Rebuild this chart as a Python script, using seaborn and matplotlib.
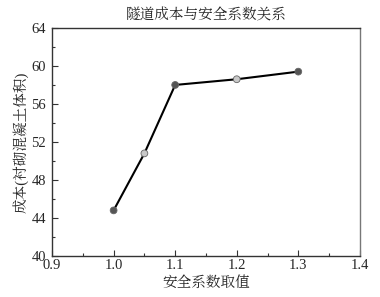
import matplotlib
matplotlib.use("Agg")
import matplotlib.pyplot as plt
import seaborn as sns
import pandas as pd
from matplotlib.ticker import MultipleLocator

safety_factor = [1.0, 1.05, 1.1, 1.2, 1.3]
cost = [44.8, 50.8, 58.0, 58.6, 59.4]
marker_colors = ["#555555", "#c8c8c8", "#555555", "#c8c8c8", "#555555"]
x_ticks = [0.9, 1.0, 1.1, 1.2, 1.3, 1.4]
y_ticks = [40, 44, 48, 52, 56, 60, 64]

sns.set_theme(style="white")
plt.rcParams['font.family'] = ['Liberation Serif', 'Noto Serif CJK SC', 'Noto Sans CJK SC']
plt.rcParams['xtick.direction'] = 'in'
plt.rcParams['ytick.direction'] = 'in'

df = pd.DataFrame({"x": safety_factor, "y": cost})

fig = plt.figure(figsize=(3.8, 2.97), dpi=100)
ax = fig.add_axes([0.137, 0.138, 0.810, 0.768])
sns.lineplot(data=df, x="x", y="y", ax=ax, color="black", linewidth=1.5)
ax.scatter(df["x"], df["y"], c=marker_colors, s=24, zorder=3, edgecolors="#666666", linewidths=0.6)

ax.set_xlim(0.9, 1.4)
ax.set_ylim(40, 64)
ax.set_xticks(x_ticks)
ax.set_xticklabels([f"{v:.1f}" for v in x_ticks])
ax.set_yticks(y_ticks)
ax.xaxis.set_minor_locator(MultipleLocator(0.05))
ax.yaxis.set_minor_locator(MultipleLocator(2))
ax.tick_params(axis="x", which="major", length=4, width=0.8, color="#333333", labelsize=10.5, pad=2, bottom=True)
ax.tick_params(axis="y", which="major", length=4, width=0.8, color="#333333", labelsize=10.5, pad=4.5, left=True)
ax.tick_params(which="minor", length=2, width=0.8, color="#333333", bottom=True, left=True)
for s in ax.spines.values():
    s.set_color("#333333")
    s.set_linewidth(1.0)
ax.spines["right"].set_color("#777777")

ax.set_xlabel("安全系数取值", fontsize=10.5, labelpad=3)
ax.set_ylabel("成本(衬砌混凝土体积)", fontsize=10.5, labelpad=2)
ax.set_title("隧道成本与安全系数关系", fontsize=10.5, pad=6)

fig.savefig("out.png", dpi=100)
